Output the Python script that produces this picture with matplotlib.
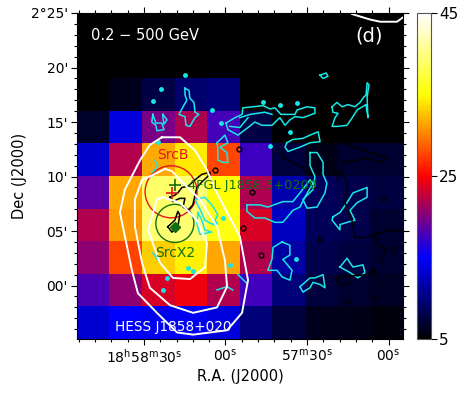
import numpy as np
import matplotlib
matplotlib.use('Agg')
import matplotlib.pyplot as plt
from matplotlib.colors import LinearSegmentedColormap
from matplotlib.patches import Ellipse
from matplotlib.ticker import FixedLocator, MultipleLocator

plt.rcParams['mathtext.default'] = 'regular'

# counts map, top row first
mapa = [
    [5, 5, 5, 5, 5, 5, 5, 5, 5, 5],
    [5, 5, 5, 5, 5, 5, 5, 5, 5, 5],
    [5, 6.2, 7.8, 9.3, 9.7, 5, 5, 5, 5, 5],
    [6.6, 13.6, 19.8, 21.8, 17.8, 7.8, 5.2, 5, 5, 5],
    [13, 22, 31.6, 34.2, 27.8, 17.4, 7.4, 6, 7, 7],
    [18.6, 31.5, 39, 39.5, 35, 21.8, 11.8, 8.6, 8, 7.5],
    [22, 31, 39.5, 39.5, 35.5, 23.5, 12.5, 8.5, 8, 7],
    [20.5, 27.5, 33, 34.5, 31.5, 22, 11.5, 8, 7.5, 7],
    [18, 20.5, 23.5, 24.5, 22, 17.5, 9.8, 7.4, 7, 6.5],
    [13.4, 15, 14.6, 14.6, 13.6, 9.8, 7.4, 6.2, 6, 5.5],
]

# RA seconds past 18h57m, Dec arcmin past 2 deg
blanco_1 = [(83.4, 13.6), (76.7, 13.6), (71.2, 12.4), (66.8, 10.6), (63.8, 8.8), (59.4, 6.7), (54.7, 4.5),
            (51.7, 0.5), (53.9, -2.5), (59.4, -4.1), (71.9, -4.5), (77.8, -4.3), (85.2, -2.5), (92.2, -0.7),
            (94.4, 1.4), (98.8, 6.7), (97, 8.8), (91.4, 11.5), (87.8, 12.9), (83.4, 13.6)]
blanco_2 = [(82.2, 10.7), (79.7, 10.5), (75.6, 9.4), (69.4, 7.9), (63.1, 5.4), (60.2, 2.3), (59.4, -0.1),
            (63.1, -2.0), (71.9, -2.5), (80.4, -1.8), (87.8, -0.2), (90.7, 2.1), (93.3, 5.4), (93.3, 7.9),
            (90.7, 9.7), (87, 10.1), (82.2, 10.7)]
blanco_3 = [(83, 8.1), (76.7, 7.6), (70.5, 6.0), (66.8, 3.9), (67.5, 1.7), (73, 0.6), (79.3, 0.7), (84.1, 2.1),
            (88.5, 5.1), (85.2, 7.9), (83, 8.1)]
blanco_4 = [(13.4, 24.9), (6.8, 24.4), (3.1, 24.2), (-3.1, 24.2), (-5.3, 24.6)]
blancos = [blanco_1, blanco_2, blanco_3, blanco_4]

cian = [
    [(74.9, 18.1), (73.4, 17.9), (73.1, 17.2), (71.6, 16.8), (71.2, 15.9), (69.8, 15.7), (71.2, 15.4), (73.1, 14.6),
     (74.5, 14.7), (74.9, 15.5), (77.1, 15.7), (75.6, 16.4), (74.2, 17), (74.9, 17.5), (74.9, 18.1)],
    [(86.7, 15.7), (85.6, 14.9), (83.4, 14.9), (82.6, 14.3), (85.2, 14.2), (85.6, 14.7), (87.1, 15), (86.7, 15.7)],
    [(83, 15.7), (81.5, 15.2), (82.6, 14.8), (83, 15.4), (83, 15.7)],
    [(59.8, 14.9), (56.5, 15.4), (53.9, 15.7), (53.6, 16.3), (49.9, 16.4), (46.2, 16.5), (43.6, 16.2), (41.8, 16.3),
     (39.6, 15.7), (34.4, 15.7), (33.7, 16.1), (30, 16.4), (27.1, 16.3), (27.1, 15.8), (31.5, 15.4), (34.4, 15.5),
     (36.3, 15.2), (38.1, 14.7), (40, 15.4), (42.9, 14.7), (46.6, 14.7), (49.2, 15), (51.7, 14.5), (55.4, 13.8),
     (59.1, 14.3), (59.8, 14.9)],
    [(54.7, 15.4), (51, 15.7), (45.5, 15.9), (42.9, 15.7)],
    [(58.4, 14.6), (54.7, 14.5), (51.7, 15.4)],
    [(20.8, 16.4), (19, 16.8), (17.1, 16.4), (15, 16.6), (12.4, 16.4), (10.5, 16.8), (9.4, 17.2), (8.3, 17.5),
     (7.9, 18.6), (7.2, 18.4), (7.9, 17.3), (7.6, 15.4), (8.3, 16.6), (11.6, 16.1), (13.1, 15.5), (15.3, 14.7),
     (18.6, 14.6), (20.8, 14.6), (19.7, 15.4), (18.6, 15.8), (20.5, 15.9), (20.8, 16.4)],
    [(25.2, 19.3), (24.1, 19), (22.3, 19.2), (23, 19.5), (25.2, 19.3)],
    [(37.4, 13.1), (35.2, 13.4), (31.5, 13.5), (28.9, 13.8), (25.9, 14.1), (25.2, 13.2), (28.9, 13.1), (32.6, 12.7),
     (37, 12.3), (38.1, 12.7), (37.4, 13.1)],
    [(28.9, 12.2), (26.3, 12.2), (24.1, 11.3), (24.1, 10.2), (22.7, 9.4), (23.4, 8.5), (26.3, 7.2), (30, 7.1),
     (31.5, 7.9), (27.8, 8.8), (27.1, 10), (28.9, 11), (28.9, 12.2)],
    [(52.1, 7.4), (47.3, 7.4), (44.4, 7.2), (38.9, 7.7), (35.2, 7.7), (32.6, 8.5), (28.9, 9.7), (27.8, 9.4),
     (30.8, 8.1), (32.6, 7.2), (35.2, 6.9), (38.9, 5.8), (41.8, 5.8), (45.5, 6.2), (49.2, 6.2), (52.1, 6.8),
     (52.1, 7.4)],
    [(20.5, 6.3), (17.9, 6.7), (15.3, 7.6), (13.1, 8.5), (7.9, 9), (7.9, 8.1), (11.6, 7.6), (14.2, 6.9), (12.4, 6),
     (17.9, 5.6), (17.9, 5.1), (20.8, 6), (20.5, 6.3)],
    [(39.2, 4), (36.3, 3.7), (36.3, 2.8), (38.9, 2.4), (35.5, 1.4), (36.3, 0.5), (39.2, 0.8), (41, 1.4), (44.4, 1.4),
     (42.9, 2.4), (42.5, 3.5), (39.2, 4)],
    [(17.9, 1.7), (15.3, 2.5), (13.1, 1.7), (9.4, 1.9), (8.7, 1.2), (11.3, 0.7), (14.2, 1.2), (17.9, 1.7)],
    [(32.6, -0.1), (28.9, 0.7), (27.1, 0.7), (24.1, 1), (23.4, -0.2), (25.2, 0.1), (27.8, 0.3), (28.9, -0.2),
     (31.5, -0.6), (32.6, -0.1)],
    [(63.1, 13.1), (60.2, 13.8), (59.1, 13.1), (62, 12.7), (59.5, 12.2), (59.1, 11.3), (60.9, 11.3), (62.8, 11.5),
     (62.8, 12.6), (63.1, 13.1)],
    [(71.2, 7.9), (67.6, 8.1), (65, 7.4), (62.8, 6.5), (64.6, 5.6), (67.6, 6), (69.4, 7), (71.2, 7.9)],
    [(70.1, 6.7), (68.7, 6), (67.6, 5.1), (65, 4.9), (69.4, 4.7), (70.5, 5.7), (70.1, 6.7)],
    [(86, 11.5), (84.9, 11), (86.7, 10.4)],
    [(86.7, 3), (84.1, 2.1)],
    [(63.1, -0.4), (59.5, -0.1), (57.3, -0.4)],
    [(55.4, 1), (52.1, 0.2)],
]
cian_ra = [74.9, 83.8, 86.7, 65, 61.7, 46.2, 40, 33.7, 36.3, 43.6, 81.5, 83, 58.4, 63.9, 60.9, 84.9, 73.8, 72, 34.1]
cian_dec = [19.3, 18, 16.9, 16.1, 14.9, 16.8, 16.6, 16.7, 14.1, 12.8, 0.7, -0.4, 1.9, 5.7, 6.2, 13.2, 1.6, 1.3, 2.4]

negros = [
    [(80.4, 8.1), (78.6, 8.3), (77.5, 8.5), (76, 9), (73.8, 9.1), (71.2, 9.7), (68.7, 10.2), (65.7, 10.4),
     (65.7, 10.2), (68.7, 9.5), (70.5, 9), (71.2, 8.3), (72, 7.4), (73.8, 6.9), (75.6, 7.2), (74.9, 8), (76.8, 8),
     (79.3, 7.7), (80.4, 8.1)],
    [(81.2, 5.4), (78.6, 6), (77.5, 6.8), (76.8, 6.5), (77.5, 5.4), (79.7, 4.9), (81.2, 5.4)],
    [(17.9, 10.6), (15, 9.4), (16, 7.6), (13.5, 6), (12.4, 4.4), (7.9, 4.4), (5, 4.8), (3.9, 3.7), (0.6, 3.3),
     (3.2, 2.1)],
    [(5, 1.4), (5.7, 1.2), (7.9, 1), (17.9, 0.8), (19.7, 0.7), (17.9, 0.1), (16, 0.1), (14.2, 0.3)],
    [(16.8, 13.1), (11.6, 12.6), (6.8, 12.2), (3.9, 12), (0.6, 11.8), (2.1, 11.3), (5.7, 11.5), (7.9, 11.7),
     (11.6, 11.5), (16.8, 11.3)],
    [(22.3, 11.3), (20.8, 10.6), (17.9, 10.3), (19, 9.7)],
    [(38.9, 12.4), (38.9, 11.8), (35.2, 11.3), (31.9, 10.8), (28.9, 10.2)],
    [(4.3, 4.8), (-1.6, 5.1), (-5.3, 4.9)],
]
negro_ra = [55, 50.4, 53.6, 47, 25.2, -1.6, 5.7, 15.3, 5.7, 2.1, 63.9]
negro_dec = [12.5, 8.6, 5.3, 2.8, 4.3, 3.4, -1.1, -1.4, 1.3, 8, 10.6]

ra_ticks = [90, 60, 30, 0]
ra_labels = ['$18^{h}58^{m}30^{s}$', '$00^{s}$', '$57^{m}30^{s}$', '$00^{s}$']
dec_ticks = [25, 20, 15, 10, 5, 0]
dec_labels = ["2°25'", "20'", "15'", "10'", "05'", "00'"]
cbar_ticks = [5, 25, 45]

colores = [(0, 0, 0), (0, 0, 1), (1, 0, 0), (1, 1, 0), (1, 1, 1)]
ds9b = LinearSegmentedColormap.from_list('ds9b', colores, N=256)

fig = plt.figure(figsize=(4.63, 3.93), dpi=100)
ax = fig.add_axes([77 / 463, 1 - 339 / 393, 326 / 463, 326 / 393])
ra_izq, ra_der, dec_abajo, dec_arriba = 114.6, -5.3, -4.9, 25

im = ax.imshow(mapa, cmap=ds9b, vmin=5, vmax=45, aspect='auto', interpolation='nearest',
               extent=[ra_izq, ra_der, dec_abajo, dec_arriba])

for linea in cian:
    ax.plot([p[0] for p in linea], [p[1] for p in linea], color='#19e6e6', lw=1.1)
ax.plot(cian_ra, cian_dec, 'o', color='#19e6e6', ms=2.5, ls='none')

for linea in negros:
    ax.plot([p[0] for p in linea], [p[1] for p in linea], color='black', lw=1.1)
ax.plot(negro_ra, negro_dec, 'o', mfc='none', mec='black', mew=1, ms=3.5, ls='none')

for linea in blancos:
    ax.plot([p[0] for p in linea], [p[1] for p in linea], color='white', lw=1.4)

ax.add_patch(Ellipse((80, 8.6), 19.1, 4.77, fill=False, ec='#e8141e', lw=1))
ax.add_patch(Ellipse((78.6, 5.7), 14, 3.5, fill=False, ec='#107010', lw=1))
ax.plot([78.6], [5.4], 'D', color='#107010', ms=5)
ax.plot([79.7], [8.5], '+', color='#e8141e', ms=8, mew=1.2)
ax.plot([78.6], [9.2], '+', color='#107010', ms=9, mew=1.2)

ax.text(79.3, 12, 'SrcB', color='#e8141e', fontsize=10, ha='center', va='center')
ax.text(78.6, 3, 'SrcX2', color='#107010', fontsize=10, ha='center', va='center')
ax.text(73.8, 9.2, '4FGL J1858.3+0209', color='#107010', fontsize=9.3, ha='left', va='center')
ax.text(79.3, -3.8, 'HESS J1858+020', color='white', fontsize=9.8, ha='center', va='center')
ax.text(109.5, 22.9, '0.2 − 500 GeV', color='white', fontsize=10.5, ha='left', va='center')
ax.text(7.2, 22.9, '(d)', color='white', fontsize=14, ha='center', va='center')

ax.set_xlim(ra_izq, ra_der)
ax.set_ylim(dec_abajo, dec_arriba)
ax.xaxis.set_major_locator(FixedLocator(ra_ticks))
ax.set_xticklabels(ra_labels)
ax.xaxis.set_minor_locator(MultipleLocator(6))
ax.yaxis.set_major_locator(FixedLocator(dec_ticks))
ax.set_yticklabels(dec_labels)
ax.yaxis.set_minor_locator(MultipleLocator(1))
ax.tick_params(which='major', direction='out', length=4, width=0.8, labelsize=10, top=True, right=True, pad=2.5)
ax.tick_params(which='minor', direction='out', length=2, width=0.8, top=True, right=True)
ax.set_xlabel('R.A. (J2000)', fontsize=10.5, labelpad=2)
ax.set_ylabel('Dec (J2000)', fontsize=10.5, labelpad=3)

cax = fig.add_axes([417 / 463, 1 - 339 / 393, 14 / 463, 326 / 393])
barra = fig.colorbar(im, cax=cax, ticks=cbar_ticks)
barra.ax.tick_params(labelsize=11, length=4, width=0.8, pad=2)
barra.outline.set_edgecolor('#555555')
barra.outline.set_linewidth(0.8)

fig.savefig('out.png', dpi=100)
